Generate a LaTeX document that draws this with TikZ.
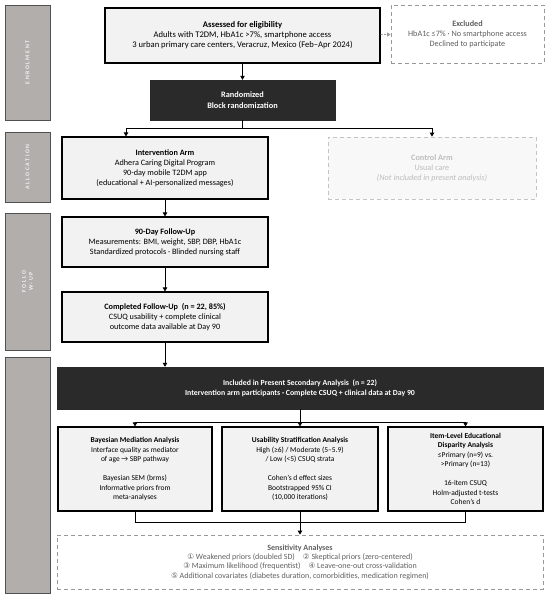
\documentclass[tikz,border=0pt]{standalone}
\usepackage{fontspec}
\setmainfont{Carlito}
\newfontfamily\symfont{DejaVu Sans}
\usetikzlibrary{arrows.meta,positioning}
\definecolor{barfill}{HTML}{B1AEAC}
\definecolor{barline}{HTML}{505050}
\definecolor{boxfill}{HTML}{F2F2F2}
\definecolor{darkfill}{HTML}{2A2A2A}
\definecolor{exclline}{HTML}{999999}
\definecolor{excltext}{HTML}{606060}
\definecolor{ctrlline}{HTML}{C4C4C4}
\definecolor{ctrltext}{HTML}{BDBDBD}
\definecolor{ctrlfill}{HTML}{F8F8F8}
\newcommand{\cn}[1]{{\symfont\fontsize{7.6}{9}\selectfont #1}}
\begin{document}
\begin{tikzpicture}[x=1pt,y=-1pt,
  mainfont/.style={font=\fontsize{8.2}{10}\selectfont},
  eligfont/.style={font=\fontsize{8.6}{10}\selectfont},
  smallfont/.style={font=\fontsize{7.5}{9.5}\selectfont},
  sensfont/.style={font=\fontsize{8}{9.4}\selectfont},
  darkfont/.style={font=\fontsize{7.8}{10}\selectfont\bfseries},
  flowbox/.style={draw=black, line width=1.1pt, fill=boxfill, align=center, inner sep=0pt},
  darkbox/.style={draw=darkfill, fill=darkfill, text=white, align=center, inner sep=0pt},
  exclbox/.style={draw=exclline, dash pattern=on 4pt off 3pt, line width=0.8pt, fill=white, text=excltext, align=center, inner sep=0pt},
  ctrlbox/.style={draw=ctrlline, dash pattern=on 4pt off 3pt, line width=0.8pt, fill=ctrlfill, text=ctrltext, align=center, inner sep=0pt},
  sidebar/.style={draw=barline, line width=0.9pt, fill=barfill, inner sep=0pt},
  sidelabel/.style={rotate=90, text=white!85!barfill, align=center, font=\fontsize{5.8}{6.8}\selectfont\bfseries\addfontfeature{LetterSpace=28}},
  conn/.style={draw=black, line width=0.8pt},
  arr/.style={conn, -{Triangle[width=4.5pt,length=4pt]}},
  grayarr/.style={draw=exclline, line width=0.8pt, dash pattern=on 2pt off 1.5pt, -{Triangle[width=4pt,length=3.5pt]}}
]
\useasboundingbox (0,0) rectangle (550,600);
\fill[white] (0,0) rectangle (550,600);

% side bars
\node[sidebar, minimum width=45pt, minimum height=115pt] (b1) at (27.5,62.5) {};
\node[sidebar, minimum width=45pt, minimum height=70pt] (b2) at (27.5,167) {};
\node[sidebar, minimum width=45pt, minimum height=137pt] (b3) at (27.5,281.5) {};
\node[sidebar, minimum width=45pt, minimum height=236pt] (b4) at (27.5,475) {};
\node[sidelabel] (l1) at (b1) {ENROLMENT};
\node[sidelabel] (l2) at (b2) {ALLOCATION};
\node[sidelabel] (l3) at (b3) {FOLLO\\W-UP};

% main flow
\node[flowbox, eligfont, minimum width=275pt, minimum height=55pt] (elig) at (242.5,35.5)
  {\textbf{Assessed for eligibility}\\Adults with T2DM, HbA1c >7\%, smartphone access\\3 urban primary care centers, Veracruz, Mexico (Feb–Apr 2024)};
\node[exclbox, mainfont, minimum width=153pt, minimum height=58pt] (excl) at (467.5,34)
  {\textbf{Excluded}\\HbA1c ≤7\% · No smartphone access\\Declined to participate};
\node[darkbox, font=\fontsize{8.3}{10.5}\selectfont\bfseries, minimum width=185pt, minimum height=40pt] (rand) at (242.5,100)
  {Randomized\\Block randomization};
\node[flowbox, mainfont, minimum width=206pt, minimum height=62pt] (interv) at (165,168)
  {\textbf{Intervention Arm}\\Adhera Caring Digital Program\\90-day mobile T2DM app\\(educational + AI-personalized messages)};
\node[ctrlbox, mainfont, minimum width=208pt, minimum height=62pt] (ctrl) at (432,168)
  {\textbf{Control Arm}\\Usual care\\\textit{(Not included in present analysis)}};
\node[flowbox, mainfont, minimum width=206pt, minimum height=50pt] (fu) at (165,242)
  {\textbf{90-Day Follow-Up}\\Measurements: BMI, weight, SBP, DBP, HbA1c\\Standardized protocols · Blinded nursing staff};
\node[flowbox, mainfont, minimum width=206pt, minimum height=50pt] (comp) at (165,317)
  {\textbf{Completed Follow-Up\ \ (n = 22, 85\%)}\\CSUQ usability + complete clinical\\outcome data available at Day 90};
\node[darkbox, darkfont, minimum width=486pt, minimum height=42pt] (incl) at (300,388)
  {Included in Present Secondary Analysis\ \ (n = 22)\\Intervention arm participants · Complete CSUQ + clinical data at Day 90};
\node[flowbox, smallfont, minimum width=154pt, minimum height=84pt] (bay) at (135,469)
  {\textbf{Bayesian Mediation Analysis}\\Interface quality as mediator\\of age → SBP pathway\\[9.5pt]Bayesian SEM (brms)\\Informative priors from\\meta-analyses};
\node[flowbox, smallfont, minimum width=156pt, minimum height=84pt] (usa) at (300,469)
  {\textbf{Usability Stratification Analysis}\\High (≥6) / Moderate (5–5.9)\\/ Low (<5) CSUQ strata\\[9.5pt]Cohen's d effect sizes\\Bootstrapped 95\% CI\\(10,000 iterations)};
\node[flowbox, smallfont, minimum width=155pt, minimum height=84pt] (item) at (465.5,469)
  {\textbf{Item-Level Educational}\\\textbf{Disparity Analysis}\\≤Primary (n=9) vs.\\>Primary (n=13)\\[9.5pt]16-item CSUQ\\Holm-adjusted t-tests\\Cohen's d};
\node[exclbox, sensfont, minimum width=486pt, minimum height=54pt] (sens) at (300,562)
  {\textbf{Sensitivity Analyses}\\\cn{①} Weakened priors (doubled SD)\quad \cn{②} Skeptical priors (zero-centered)\\\cn{③} Maximum likelihood (frequentist)\quad \cn{④} Leave-one-out cross-validation\\\cn{⑤} Additional covariates (diabetes duration, comorbidities, medication regimen)};

% connectors
\draw[arr] (elig) -- (rand);
\draw[grayarr] (elig) -- (excl);
\coordinate (sp1) at (242.5,128);
\coordinate (ia) at (126,128);
\coordinate (ca) at (432,128);
\draw[conn] (rand) -- (sp1);
\draw[arr] (sp1) -- (ia) -- (ia |- interv.north);
\draw[arr] (sp1) -- (ca) -- (ctrl.north);
\draw[arr] (interv) -- (fu);
\draw[arr] (fu) -- (comp);
\draw[arr] (comp) -- (comp |- incl.north);
\coordinate (sp2) at (300,422);
\draw[conn] (incl.south -| sp2) -- (sp2);
\draw[arr] (sp2) -- (bay.north |- sp2) -- (bay.north);
\draw[arr] (sp2) -- (item.north |- sp2) -- (item.north);
\draw[arr] (sp2) -- (usa.north);
\coordinate (mg) at (135,522);
\draw[conn] (bay.south) -- (mg) -| (item.south);
\draw[arr] (usa.south) -- (sens.north);
\end{tikzpicture}
\end{document}
